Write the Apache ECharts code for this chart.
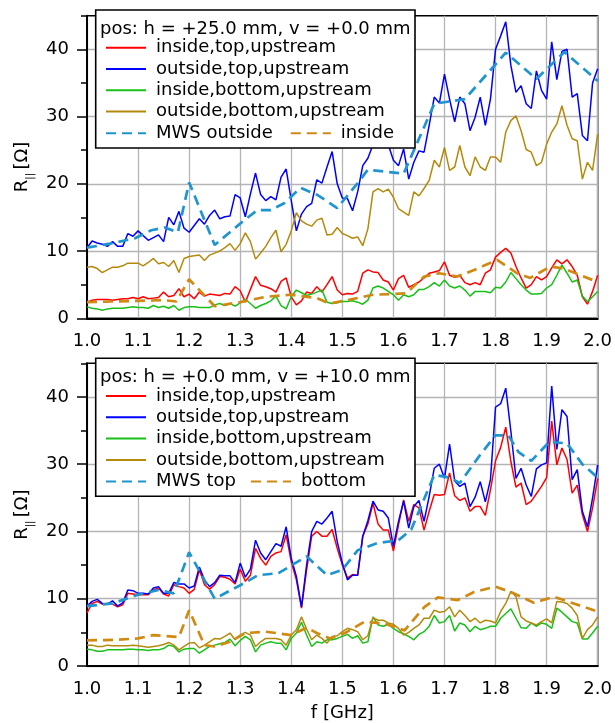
<!DOCTYPE html>
<html><head><meta charset="utf-8">
<script src="https://cdn.jsdelivr.net/npm/echarts@6/dist/echarts.min.js"></script>
<style>html,body{margin:0;padding:0;background:#fff}#c{width:615px;height:723px}</style>
</head><body><div id="c"></div>
<script>
// ---- data ----
const freq = [1.00,1.01,1.02,1.03,1.04,1.05,1.06,1.07,1.08,1.09,
1.10,1.11,1.12,1.13,1.14,1.15,1.16,1.17,1.18,1.19,
1.20,1.21,1.22,1.23,1.24,1.25,1.26,1.27,1.28,1.29,
1.30,1.31,1.32,1.33,1.34,1.35,1.36,1.37,1.38,1.39,
1.40,1.41,1.42,1.43,1.44,1.45,1.46,1.47,1.48,1.49,
1.50,1.51,1.52,1.53,1.54,1.55,1.56,1.57,1.58,1.59,
1.60,1.61,1.62,1.63,1.64,1.65,1.66,1.67,1.68,1.69,
1.70,1.71,1.72,1.73,1.74,1.75,1.76,1.77,1.78,1.79,
1.80,1.81,1.82,1.83,1.84,1.85,1.86,1.87,1.88,1.89,
1.90,1.91,1.92,1.93,1.94,1.95,1.96,1.97,1.98,1.99,
2.00];

// top panel: pos h = +25.0 mm, v = +0.0 mm
const topInsideTop = [2.4,2.7,2.8,2.8,2.8,2.7,2.8,2.9,2.9,3.1,
2.9,3.2,2.9,3.0,3.1,3.9,3.2,3.4,4.4,3.2,
3.6,2.9,3.9,3.3,3.6,3.5,3.4,3.7,3.6,4.7,
4.1,2.4,4.3,6.2,4.9,4.7,4.4,3.9,5.5,6.0,
3.2,2.0,2.6,3.9,3.7,4.7,3.9,5.0,6.2,4.2,
3.5,3.7,3.6,4.0,6.7,7.2,6.9,6.8,5.7,5.4,
4.2,5.9,6.4,4.6,5.0,5.4,6.0,6.7,6.9,7.1,
8.4,6.4,6.1,6.4,5.3,5.0,5.3,5.0,6.7,7.2,
9.1,9.8,10.4,9.7,7.7,6.0,4.5,5.0,6.2,5.7,
6.2,7.5,8.7,8.1,8.7,7.7,6.4,3.2,2.1,4.0,
6.4];
const topOutsideTop = [10.5,11.5,11.2,11.0,10.7,11.4,10.7,10.7,12.6,12.2,
13.0,12.3,11.6,12.0,12.4,11.4,15.0,13.9,15.9,13.4,
12.8,13.8,14.8,14.0,15.3,16.1,14.8,15.1,15.2,18.4,
17.9,15.1,18.5,21.6,18.4,17.5,18.1,17.6,21.0,22.2,
17.5,13.0,15.5,16.6,17.1,20.6,20.1,22.5,24.8,20.0,
17.9,17.8,16.0,18.8,22.7,23.8,25.8,27.0,26.5,25.8,
23.5,22.7,25.2,20.7,23.2,24.9,24.7,28.7,32.9,32.0,
36.3,32.6,29.2,32.9,31.9,27.9,29.9,32.9,28.7,32.6,
40.0,42.0,44.1,37.6,33.6,34.6,31.9,31.2,36.8,33.9,
32.6,41.1,35.5,39.7,40.0,32.9,33.4,27.2,26.4,35.0,
37.1];
const topInsideBottom = [1.7,1.5,1.4,1.2,1.4,1.5,1.5,1.5,1.6,1.7,
1.6,1.6,1.5,1.9,1.6,1.8,1.5,1.9,1.2,1.6,
1.7,1.7,1.6,1.6,1.6,2.0,2.2,1.9,2.2,1.8,
2.3,2.8,2.2,1.5,1.9,2.2,2.6,3.3,1.9,1.4,
3.2,4.2,3.8,3.4,3.6,3.9,4.2,2.4,2.2,2.3,
2.5,2.5,2.6,2.4,2.1,2.7,4.5,4.8,4.5,4.0,
3.5,2.7,3.5,3.2,3.5,4.3,4.3,4.7,5.3,4.8,
5.7,4.8,4.5,4.8,4.2,3.3,4.0,4.0,4.0,3.8,
4.6,4.5,5.4,6.8,5.9,5.0,4.2,3.6,3.6,3.7,
4.5,5.0,6.4,7.9,6.7,5.4,5.7,3.3,2.5,3.2,
4.0];
const topOutsideBottom = [7.6,7.7,7.4,6.8,7.2,7.6,7.6,7.8,8.2,8.2,
8.2,7.8,8.3,8.9,8.1,8.3,7.7,8.6,6.8,8.9,
9.2,9.3,9.4,8.6,9.4,9.7,10.0,10.5,11.1,10.1,
11.1,12.7,11.4,8.8,9.7,10.7,12.0,13.1,9.9,11.0,
13.0,15.7,14.5,14.0,13.7,14.6,14.9,12.4,12.5,13.5,
12.6,12.3,11.9,12.1,10.8,13.3,18.8,19.3,18.8,19.2,
18.0,16.3,15.8,15.3,18.8,18.2,19.3,20.5,23.5,22.5,
25.4,22.0,22.5,25.7,22.5,21.2,24.0,22.5,22.0,24.0,
24.0,23.2,27.7,29.4,30.1,27.9,25.1,24.7,22.7,23.2,
25.9,27.7,28.9,31.6,28.7,26.7,26.4,20.7,23.2,22.0,
27.4];
const topMwsOutsideF = [1.0,1.045,1.094,1.126,1.152,1.178,1.2,1.25,1.308,1.334,1.36,1.386,1.418,1.45,1.49,1.53,1.55,1.62,1.68,1.74,1.82,1.88,1.935,2.0];
const topMwsOutsideV = [10.5,11.1,11.9,13.1,13.5,12.8,20.2,10.9,14.6,16.1,16.1,17.1,19.4,18.4,16.4,20.1,22.1,21.5,31.9,32.6,39.5,35.6,39.6,35.3];
const topMwsInsideF = [1.0,1.05,1.1,1.15,1.175,1.2,1.25,1.3,1.35,1.4,1.45,1.475,1.51,1.56,1.625,1.66,1.69,1.725,1.765,1.803,1.842,1.868,1.907,1.933,1.99,2.0];
const topMwsInsideV = [2.4,2.5,2.6,2.7,2.5,5.8,1.8,2.4,3.2,3.5,3.0,2.2,2.7,3.5,3.7,6.2,6.7,6.2,7.4,8.7,6.7,6.0,7.7,7.4,5.7,5.6];

// bottom panel: pos h = +0.0 mm, v = +10.0 mm
const botInsideTop = [7.9,9.3,9.6,9.2,9.3,9.2,8.8,9.1,10.8,10.7,
10.6,10.6,10.6,11.3,11.6,10.7,10.4,12.1,11.8,11.6,
10.8,11.4,14.3,12.1,11.4,12.1,13.3,13.2,12.9,12.2,
14.4,12.6,13.5,17.5,16.0,15.0,16.3,16.8,17.0,19.5,
15.5,12.8,8.6,14.3,19.3,20.0,19.3,19.3,20.3,17.5,
15.0,13.1,13.6,13.5,19.3,21.1,24.2,21.1,20.2,20.2,
17.1,21.0,24.7,21.5,24.0,23.5,20.2,23.0,25.5,25.4,
25.5,28.7,25.3,24.6,25.0,23.0,23.7,23.7,22.4,26.2,
30.5,32.5,35.5,30.4,26.6,27.2,24.0,24.5,25.6,26.7,
28.0,36.4,29.9,32.4,30.7,25.7,26.9,22.5,20.0,23.5,
27.9];
const botOutsideTop = [8.9,9.6,9.9,9.3,9.2,9.7,8.9,9.4,11.3,11.2,
10.8,10.8,10.7,11.6,11.8,10.8,10.8,12.4,12.2,12.2,
11.6,11.9,14.7,12.8,11.8,12.4,13.5,13.4,13.4,12.4,
15.3,13.2,14.4,18.7,16.8,15.8,17.0,18.2,17.8,20.7,
16.0,13.3,8.8,15.0,20.0,21.5,21.1,22.0,23.0,18.5,
15.3,12.8,13.5,13.5,19.3,21.6,24.5,23.2,23.0,22.0,
17.8,21.5,24.5,20.5,23.7,24.6,21.5,25.2,29.4,30.0,
27.9,33.0,27.5,26.7,27.2,23.7,25.1,27.4,24.4,27.7,
38.5,39.0,41.3,34.9,27.9,29.4,26.9,25.2,29.3,29.9,
30.2,41.6,32.2,38.1,37.1,27.7,29.2,23.0,20.7,25.0,
29.9];
const botInsideBottom = [2.5,2.4,2.2,2.2,2.4,2.4,2.4,2.4,2.5,2.5,
2.4,2.4,2.3,2.4,2.4,2.6,3.1,2.9,2.1,2.5,
2.6,2.6,1.9,2.4,2.9,3.1,3.3,3.5,4.0,3.0,
3.8,4.4,3.9,2.1,3.1,3.4,3.6,3.4,3.4,2.4,
4.1,4.9,6.5,4.6,2.9,3.6,3.4,3.9,3.9,4.1,
4.4,4.7,4.1,4.5,3.4,3.6,7.3,6.1,5.9,6.2,
5.6,5.1,4.8,4.4,3.9,4.7,5.1,5.9,7.5,6.4,
6.6,7.5,5.2,6.4,6.1,5.1,5.9,5.4,5.6,5.9,
5.9,7.1,7.8,8.5,7.1,5.7,5.6,6.4,5.9,6.4,
6.2,5.6,8.6,8.0,7.3,6.6,6.4,4.0,4.0,4.9,
5.9];
const botOutsideBottom = [3.1,3.1,2.9,2.9,3.1,3.0,3.0,3.0,3.0,3.1,
3.0,2.9,2.8,2.9,3.0,3.2,3.5,3.1,2.4,2.9,
3.4,3.5,2.7,3.1,3.6,4.1,4.0,4.4,4.9,3.9,
4.6,5.0,4.6,2.9,3.6,4.1,4.1,4.1,3.9,3.1,
4.6,5.4,7.3,5.5,3.9,4.6,4.1,3.4,4.4,4.5,
5.1,5.6,5.4,5.1,3.9,4.5,7.2,6.8,6.8,6.4,
6.2,5.6,4.6,5.0,5.6,6.1,7.1,7.1,8.3,8.0,
8.1,8.8,7.3,8.3,7.5,6.6,7.1,6.4,6.8,6.7,
6.4,8.1,9.3,11.1,10.3,7.3,6.7,6.4,6.1,6.6,
7.0,6.4,9.6,9.5,9.3,8.6,7.5,4.1,5.4,6.1,
7.3];
const botMwsTopF = [1.0,1.05,1.1,1.14,1.17,1.2,1.25,1.3,1.335,1.375,1.43,1.47,1.5,1.53,1.57,1.61,1.635,1.68,1.71,1.73,1.77,1.80,1.825,1.845,1.87,1.905,1.94,1.97,2.0];
const botMwsTopV = [8.9,9.3,10.6,11.3,10.8,16.9,10.0,12.0,13.5,13.8,16.3,13.5,14.3,17.2,18.3,18.7,20.3,28.4,28.0,27.2,31.4,34.3,34.3,31.8,30.5,33.3,33.1,30.0,28.0];
const botMwsBottomF = [1.0,1.06,1.1,1.13,1.18,1.2,1.23,1.25,1.28,1.31,1.35,1.4,1.43,1.45,1.476,1.505,1.544,1.583,1.622,1.661,1.687,1.726,1.758,1.8,1.836,1.875,1.914,1.953,2.0];
const botMwsBottomV = [3.8,3.9,4.1,4.6,4.3,8.3,3.1,2.9,3.6,4.9,5.1,4.6,5.7,4.9,4.1,4.9,6.6,6.3,5.3,8.8,10.2,9.8,11.0,11.8,10.8,9.4,10.3,9.3,8.1];

const xTicks = [1.0,1.1,1.2,1.3,1.4,1.5,1.6,1.7,1.8,1.9,2.0];
const yMajor = [0,10,20,30,40];
const yMinor = [5,15,25,35,45];
const titles = ['pos: h = +25.0 mm, v = +0.0 mm', 'pos: h = +0.0 mm, v = +10.0 mm'];
const names = ['inside,top,upstream','outside,top,upstream','inside,bottom,upstream','outside,bottom,upstream'];
const mwsNames = [['MWS outside','inside'],['MWS top','bottom']];

// ---- styling ----
const FONT = 'DejaVu Sans';
const COL = {red:'#ff0000', blue:'#0000ff', green:'#18c018', olive:'#b48a0c', mwsBlue:'#1f95d0', mwsOrange:'#d08a12'};
const G = [{top:15.7, h:302.6}, {top:363.3, h:302.7}];
const BOX = [{y:10, gap:17}, {y:358.3, gap:14}];

function pairs(f, v){ return f.map((x,i)=>[x, v[i]]); }

const grid = G.map(g=>({left:87, right:14, top:g.top, height:g.h, show:true, borderColor:'#000', borderWidth:1.5, backgroundColor:'transparent'}));
const xAxis = [0,1].map(i=>({
  gridIndex:i, type:'value', min:1, max:2, interval:0.1,
  axisLine:{lineStyle:{color:'#000', width:2}},
  axisTick:{show:false},
  axisLabel:{fontFamily:FONT, fontSize:18, color:'#000', margin:14, customValues:xTicks, formatter:v=>v.toFixed(1)},
  splitLine:{show:true, lineStyle:{color:'#b4b4b4', width:1.3}},
  name: i===1 ? 'f [GHz]' : '', nameLocation:'middle', nameGap:38,
  nameTextStyle:{fontFamily:FONT, fontSize:18, color:'#000'}
}));
const yAxis = [];
[0,1].forEach(i=>{
  yAxis.push({
    gridIndex:i, type:'value', min:0, max:45, interval:10, position:'left',
    axisLine:{show:true, lineStyle:{color:'#000', width:2}},
    axisTick:{show:true, length:10, customValues:yMajor, lineStyle:{color:'#000', width:1.5}},
    axisLabel:{fontFamily:FONT, fontSize:18, color:'#000', margin:18, customValues:yMajor},
    splitLine:{show:true, lineStyle:{color:'#b4b4b4', width:1.3}},
    name:'{a|R}{b|||} {a|[Ω]}', nameLocation:'middle', nameGap:47, nameRotate:90,
    nameTextStyle:{rich:{
      a:{fontFamily:FONT, fontSize:18, color:'#000', lineHeight:26, verticalAlign:'middle'},
      b:{fontFamily:FONT, fontSize:10, color:'#000', lineHeight:12, verticalAlign:'bottom'}
    }}
  });
  yAxis.push({
    gridIndex:i, type:'value', min:0, max:45, interval:10, position:'left', offset:0,
    axisLine:{show:false}, axisLabel:{show:false}, splitLine:{show:false},
    axisTick:{show:true, length:6, customValues:yMinor, lineStyle:{color:'#000', width:1.5}}
  });
});

const series = [];
const measured = [[topInsideTop, topOutsideTop, topInsideBottom, topOutsideBottom],[botInsideTop, botOutsideTop, botInsideBottom, botOutsideBottom]];
const mcol = [COL.red, COL.blue, COL.green, COL.olive];
const mws = [[[topMwsOutsideF, topMwsOutsideV],[topMwsInsideF, topMwsInsideV]],[[botMwsTopF, botMwsTopV],[botMwsBottomF, botMwsBottomV]]];
[0,1].forEach(p=>{
  measured[p].forEach((vals,k)=>{
    series.push({type:'line', name:names[k], xAxisIndex:p, yAxisIndex:p*2, data:pairs(freq, vals),
      symbol:'none', color:mcol[k], lineStyle:{color:mcol[k], width:1.5}, z:2});
  });
  mws[p].forEach((fv,k)=>{
    const c = k===0 ? COL.mwsBlue : COL.mwsOrange;
    series.push({type:'line', name:mwsNames[p][k], xAxisIndex:p, yAxisIndex:p*2, data:pairs(fv[0], fv[1]),
      symbol:'none', color:c, lineStyle:{color:c, width:2.7, type:[10,6]}, z:3});
  });
});

const legendBase = {itemWidth:40, itemHeight:12, padding:0, z:20,
  itemStyle:{opacity:0, color:'transparent', borderWidth:0},
  textStyle:{fontFamily:FONT, fontSize:18, color:'#000', padding:[0,0,0,5]}};
const legend = [];
[0,1].forEach(p=>{
  const by = BOX[p].y;
  legend.push(Object.assign({}, legendBase, {data:names, orient:'vertical', left:105, top:by+28.7, itemGap:3.3}));
  legend.push(Object.assign({}, legendBase, {data:mwsNames[p], orient:'horizontal', left:105, top:by+114.3, itemGap:BOX[p].gap}));
});

const graphic = [];
[0,1].forEach(p=>{
  const by = BOX[p].y;
  graphic.push({type:'rect', z:10, shape:{x:95.7, y:by, width:319.3, height:138}, style:{fill:'#fff', stroke:'#000', lineWidth:1.6}});
  graphic.push({type:'text', z:11, x:100, y:by+19, style:{text:titles[p], fontFamily:FONT, fontSize:18, fill:'#000', verticalAlign:'middle'}});
});

const chart = echarts.init(document.getElementById('c'), null, {renderer:'canvas'});
chart.setOption({animation:false, backgroundColor:'#fff', grid, xAxis, yAxis, series, legend, graphic});
</script>
</body></html>
